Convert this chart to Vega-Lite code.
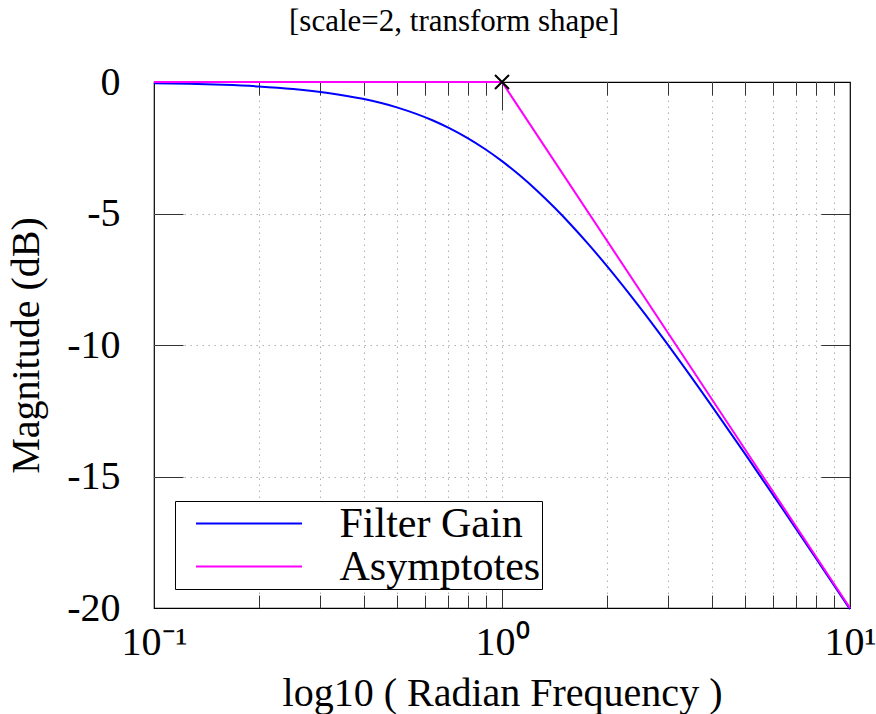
{
  "$schema": "https://vega.github.io/schema/vega-lite/v6.json",
  "width": 696,
  "height": 526,
  "autosize": {"type": "none"},
  "padding": {"left": 154, "top": 82, "right": 26, "bottom": 106},
  "background": "white",
  "title": {"text": "[scale=2, transform shape]", "font": "Liberation Serif", "fontSize": 31, "fontWeight": "normal", "color": "black", "anchor": "middle", "frame": "group", "dx": -48, "baseline": "alphabetic", "offset": 0},
  "config": {
    "view": {"stroke": "black", "strokeWidth": 1.2},
    "axis": {"domain": false, "labelFont": "Liberation Serif", "titleFont": "Liberation Serif", "labelColor": "black", "titleColor": "black", "tickColor": "#333333", "tickWidth": 1, "gridColor": "#b0b0b0", "gridDash": [1.5, 4.5], "gridWidth": 1, "titleFontWeight": "normal"}
  },
  "datasets": {
    "gain": [
      {"w": 0.1, "db": -0.043, "series": "Filter Gain"},
      {"w": 0.1259, "db": -0.068, "series": "Filter Gain"},
      {"w": 0.1585, "db": -0.108, "series": "Filter Gain"},
      {"w": 0.1995, "db": -0.170, "series": "Filter Gain"},
      {"w": 0.2512, "db": -0.266, "series": "Filter Gain"},
      {"w": 0.3162, "db": -0.414, "series": "Filter Gain"},
      {"w": 0.3981, "db": -0.639, "series": "Filter Gain"},
      {"w": 0.5012, "db": -0.973, "series": "Filter Gain"},
      {"w": 0.631, "db": -1.455, "series": "Filter Gain"},
      {"w": 0.7079, "db": -1.764, "series": "Filter Gain"},
      {"w": 0.7943, "db": -2.125, "series": "Filter Gain"},
      {"w": 0.8913, "db": -2.539, "series": "Filter Gain"},
      {"w": 1.0, "db": -3.010, "series": "Filter Gain"},
      {"w": 1.122, "db": -3.539, "series": "Filter Gain"},
      {"w": 1.2589, "db": -4.124, "series": "Filter Gain"},
      {"w": 1.4125, "db": -4.764, "series": "Filter Gain"},
      {"w": 1.5849, "db": -5.455, "series": "Filter Gain"},
      {"w": 1.7783, "db": -6.193, "series": "Filter Gain"},
      {"w": 1.9953, "db": -6.973, "series": "Filter Gain"},
      {"w": 2.5119, "db": -8.639, "series": "Filter Gain"},
      {"w": 3.1623, "db": -10.414, "series": "Filter Gain"},
      {"w": 3.981, "db": -12.266, "series": "Filter Gain"},
      {"w": 5.0119, "db": -14.170, "series": "Filter Gain"},
      {"w": 6.3096, "db": -16.108, "series": "Filter Gain"},
      {"w": 7.9433, "db": -18.069, "series": "Filter Gain"},
      {"w": 10.0, "db": -20.043, "series": "Filter Gain"}
    ],
    "asym": [
      {"w": 0.1, "db": 0, "series": "Asymptotes"},
      {"w": 1.0, "db": 0, "series": "Asymptotes"},
      {"w": 10.0, "db": -20, "series": "Asymptotes"}
    ],
    "corner": [
      {"w": 1.0, "db": 0}
    ]
  },
  "resolve": {"axis": {"x": "independent", "y": "independent"}},
  "layer": [
    {
      "data": {"name": "gain"},
      "mark": {"type": "line", "strokeWidth": 2, "interpolate": "monotone"},
      "encoding": {
        "x": {"field": "w", "type": "quantitative", "scale": {"type": "log", "domain": [0.1, 10], "nice": false},
          "axis": {"orient": "bottom", "values": [0.1, 1, 10], "ticks": false, "grid": false, "labelFontSize": 40, "labelPadding": 14, "labelBaseline": "top", "labelExpr": "datum.value < 0.5 ? '10⁻¹' : datum.value < 5 ? '10⁰' : '10¹'", "labelFlush": false, "labelOverlap": false, "title": "log10 ( Radian Frequency )", "titleFontSize": 40, "titlePadding": 11}},
        "y": {"field": "db", "type": "quantitative", "scale": {"domain": [-20, 0], "nice": false, "zero": false},
          "axis": {"orient": "left", "values": [0, -5, -10, -15, -20], "ticks": false, "grid": false, "labelFontSize": 40, "labelPadding": 34, "labelExpr": "datum.value == 0 ? '0' : '-' + abs(datum.value)", "labelFlush": false, "labelOverlap": false, "title": "Magnitude (dB)", "titleFontSize": 40, "titlePadding": 20}},
        "color": {"field": "series", "type": "nominal", "scale": {"domain": ["Filter Gain", "Asymptotes"], "range": ["#0000ff", "#ff00ff"]},
          "legend": {"orient": "none", "legendX": 21, "legendY": 419, "title": null, "symbolType": "M-0.3,0L20.9,0", "symbolSize": 100, "symbolStrokeWidth": 2, "labelFont": "Liberation Serif", "labelFontSize": 42, "labelColor": "black", "labelOffset": 121, "labelLimit": 400, "padding": 1.5, "rowPadding": 1, "strokeColor": "black", "fillColor": "white"}}
      }
    },
    {
      "data": {"name": "asym"},
      "mark": {"type": "line", "strokeWidth": 2},
      "encoding": {
        "x": {"field": "w", "type": "quantitative", "scale": {"type": "log", "domain": [0.1, 10], "nice": false},
          "axis": {"orient": "bottom", "values": [0.2, 0.3, 0.4, 0.5, 0.6, 0.7, 0.8, 0.9, 1, 2, 3, 4, 5, 6, 7, 8, 9], "ticks": true, "tickSize": -13, "grid": true, "labels": false, "title": null}},
        "y": {"field": "db", "type": "quantitative", "scale": {"domain": [-20, 0], "nice": false, "zero": false},
          "axis": {"orient": "left", "values": [-5, -10, -15], "ticks": true, "tickSize": -29, "grid": true, "labels": false, "title": null}},
        "color": {"field": "series", "type": "nominal", "scale": {"domain": ["Filter Gain", "Asymptotes"], "range": ["#0000ff", "#ff00ff"]},
          "legend": {"orient": "none", "legendX": 21, "legendY": 419, "title": null, "symbolType": "M-0.3,0L20.9,0", "symbolSize": 100, "symbolStrokeWidth": 2, "labelFont": "Liberation Serif", "labelFontSize": 42, "labelColor": "black", "labelOffset": 121, "labelLimit": 400, "padding": 1.5, "rowPadding": 1, "strokeColor": "black", "fillColor": "white"}}
      }
    },
    {
      "data": {"name": "corner"},
      "mark": {"type": "point", "shape": "M-1,-1L1,1M-1,1L1,-1", "size": 196, "filled": false, "stroke": "black", "strokeWidth": 2, "opacity": 1},
      "encoding": {
        "x": {"field": "w", "type": "quantitative", "scale": {"type": "log", "domain": [0.1, 10], "nice": false},
          "axis": {"orient": "bottom", "values": [1], "ticks": true, "tickSize": -28, "grid": false, "labels": false, "title": null}},
        "y": {"field": "db", "type": "quantitative", "scale": {"domain": [-20, 0], "nice": false, "zero": false},
          "axis": {"orient": "right", "values": [-5, -10, -15], "ticks": true, "tickSize": -29, "grid": false, "labels": false, "title": null}}
      }
    },
    {
      "data": {"name": "asym"},
      "mark": {"type": "line", "strokeOpacity": 0},
      "encoding": {
        "x": {"field": "w", "type": "quantitative", "scale": {"type": "log", "domain": [0.1, 10], "nice": false},
          "axis": {"orient": "top", "values": [0.2, 0.3, 0.4, 0.5, 0.6, 0.7, 0.8, 0.9, 2, 3, 4, 5, 6, 7, 8, 9], "ticks": true, "tickSize": -13, "grid": false, "labels": false, "title": null}},
        "y": {"field": "db", "type": "quantitative", "scale": {"domain": [-20, 0], "nice": false, "zero": false}, "axis": null}
      }
    },
    {
      "data": {"name": "corner"},
      "mark": {"type": "point", "opacity": 0},
      "encoding": {
        "x": {"field": "w", "type": "quantitative", "scale": {"type": "log", "domain": [0.1, 10], "nice": false},
          "axis": {"orient": "top", "values": [1], "ticks": true, "tickSize": -28, "grid": false, "labels": false, "title": null}},
        "y": {"field": "db", "type": "quantitative", "scale": {"domain": [-20, 0], "nice": false, "zero": false}, "axis": null}
      }
    }
  ]
}
